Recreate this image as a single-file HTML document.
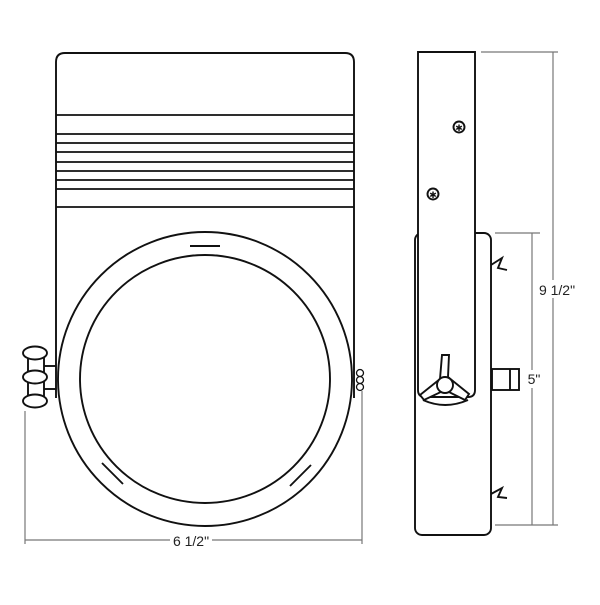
<!DOCTYPE html>
<html><head><style>html,body{margin:0;padding:0;background:#fff}</style></head><body>
<svg width="600" height="600" viewBox="0 0 600 600" xmlns="http://www.w3.org/2000/svg" fill="none" stroke="#111" stroke-width="1.9">
<!-- front view housing -->
<path d="M56 398 V62 Q56 53 65 53 H345 Q354 53 354 62 V398"/>
<g stroke-width="1.7">
<line x1="56" y1="115" x2="354" y2="115"/>
<line x1="56" y1="134" x2="354" y2="134"/>
<line x1="56" y1="143" x2="354" y2="143"/>
<line x1="56" y1="152" x2="354" y2="152"/>
<line x1="56" y1="162" x2="354" y2="162"/>
<line x1="56" y1="171" x2="354" y2="171"/>
<line x1="56" y1="180" x2="354" y2="180"/>
<line x1="56" y1="189" x2="354" y2="189"/>
<line x1="56" y1="207" x2="354" y2="207"/>
</g>
<ellipse cx="205" cy="379" rx="147" ry="147" fill="#fff"/>
<ellipse cx="205" cy="379" rx="125" ry="124"/>
<line x1="190" y1="246" x2="220" y2="246"/>
<line x1="102" y1="463" x2="123" y2="484"/>
<line x1="311" y1="465" x2="290" y2="486"/>
<!-- left knob -->
<line x1="28" y1="355" x2="28" y2="398"/><line x1="44" y1="355" x2="44" y2="398"/>
<line x1="44" y1="366" x2="56" y2="366"/><line x1="44" y1="389" x2="56" y2="389"/>
<ellipse cx="35" cy="353" rx="12" ry="6.5" fill="#fff"/>
<ellipse cx="35" cy="377" rx="12" ry="6.5" fill="#fff"/>
<ellipse cx="35" cy="401" rx="12" ry="6.5" fill="#fff"/>
<!-- right knob -->
<circle cx="360" cy="373" r="3.5" stroke-width="1.3"/>
<circle cx="360" cy="380" r="3.5" stroke-width="1.3"/>
<circle cx="360" cy="387" r="3.5" stroke-width="1.3"/>
<!-- dimensions front -->
<g stroke="#777" stroke-width="1.2">
<line x1="25" y1="411" x2="25" y2="544"/>
<line x1="362" y1="391" x2="362" y2="544"/>
<line x1="25" y1="540" x2="170" y2="540"/>
<line x1="212" y1="540" x2="362" y2="540"/>
</g>
<text x="191" y="546" font-family="Liberation Sans, sans-serif" font-size="14" fill="#222" stroke="none" text-anchor="middle">6 1/2"</text>
<!-- side view -->
<rect x="415" y="233" width="76" height="302" rx="7" fill="#fff"/>
<path d="M418 52 H475 V390 Q475 397 468 397 H425 Q418 397 418 390 Z" fill="#fff"/>
<circle cx="459" cy="127" r="5.5"/><text x="459" y="131" font-size="9" text-anchor="middle" fill="#111" stroke="none" font-family="DejaVu Sans, sans-serif">✱</text>
<circle cx="433" cy="194" r="5.5"/><text x="433" y="198" font-size="9" text-anchor="middle" fill="#111" stroke="none" font-family="DejaVu Sans, sans-serif">✱</text>
<!-- tri knob -->
<path d="M423 400 Q445 410 468 400" />
<path d="M442 355 L449 355 L448 377 L469 394 L465 400 L445 390 L424 400 L420 395 L440 379 Z" fill="#fff"/>
<circle cx="445" cy="385" r="8" fill="#fff"/>
<!-- bumps -->
<path d="M491 265 L502 258 L498 268 L507 270"/>
<path d="M491 494 L502 488 L498 497 L507 498"/>
<!-- side box -->
<rect x="492" y="369" width="27" height="21"/>
<line x1="510" y1="369" x2="510" y2="390"/>
<!-- side dimensions -->
<g stroke="#777" stroke-width="1.2">
<line x1="481" y1="52" x2="558" y2="52"/>
<line x1="553" y1="52" x2="553" y2="525"/>
<line x1="495" y1="233" x2="540" y2="233"/>
<line x1="532" y1="233" x2="532" y2="525"/>
<line x1="495" y1="525" x2="558" y2="525"/>
</g>
<rect x="536" y="280" width="40" height="18" fill="#fff" stroke="none"/>
<text x="557" y="295" font-family="Liberation Sans, sans-serif" font-size="14" fill="#222" stroke="none" text-anchor="middle">9 1/2"</text>
<rect x="523" y="370" width="20" height="18" fill="#fff" stroke="none"/>
<text x="534" y="384" font-family="Liberation Sans, sans-serif" font-size="14" fill="#222" stroke="none" text-anchor="middle">5"</text>
</svg>
</body></html>
